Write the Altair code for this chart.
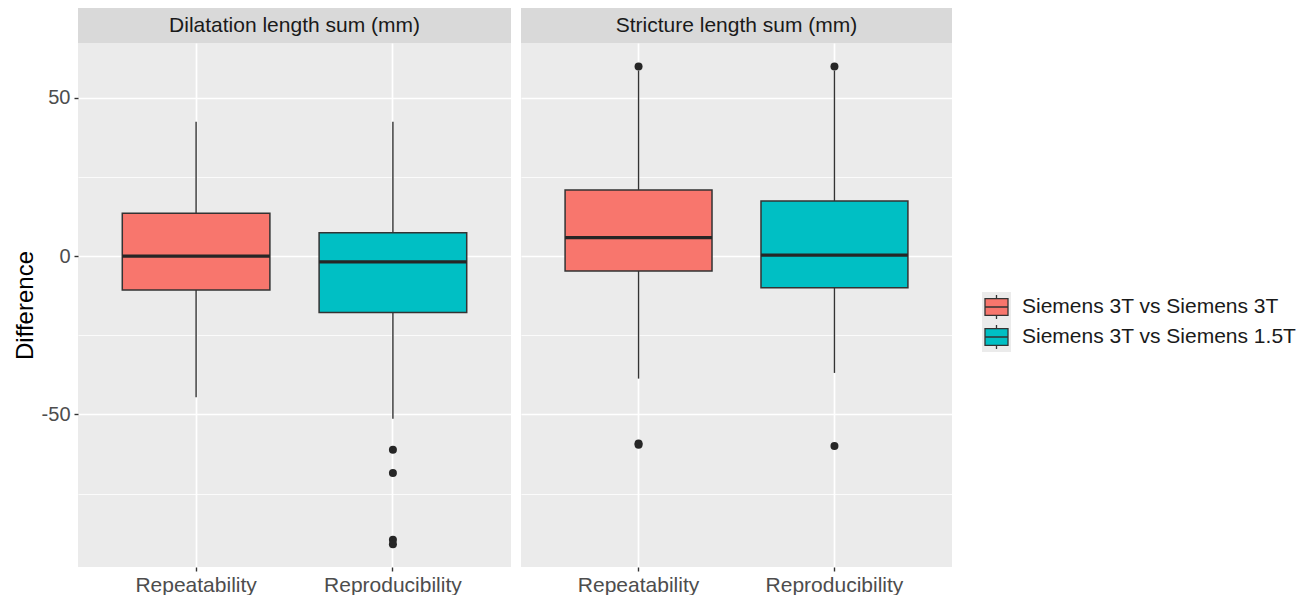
import altair as alt
import pandas as pd

panels = ["Dilatation length sum (mm)", "Stricture length sum (mm)"]
groups = ["Repeatability", "Reproducibility"]
legend_labels = ["Siemens 3T vs Siemens 3T", "Siemens 3T vs Siemens 1.5T"]
colors = ["#F8766D", "#00BFC4"]

box_panel = [panels[0], panels[0], panels[1], panels[1]]
box_group = ["Repeatability", "Reproducibility", "Repeatability", "Reproducibility"]
whisker_low = [-44.6, -51.4, -38.7, -36.9]
q1 = [-10.7, -17.8, -4.7, -10.0]
median = [0.0, -1.8, 5.8, 0.3]
q3 = [13.5, 7.4, 20.9, 17.4]
whisker_high = [42.4, 42.4, 58.6, 58.6]

out_panel = [panels[0]] * 4 + [panels[1]] * 5
out_group = ["Reproducibility"] * 4 + ["Repeatability"] * 3 + ["Reproducibility"] * 2
out_value = [-61.2, -68.5, -89.6, -91.0, 59.9, -59.2, -59.6, 59.9, -60.0]

group_to_legend = dict(zip(groups, legend_labels))

box_df = pd.DataFrame({
    "panel": box_panel, "group": box_group,
    "lo": whisker_low, "q1": q1, "median": median, "q3": q3, "hi": whisker_high,
})
box_df["legend"] = box_df["group"].map(group_to_legend)
out_df = pd.DataFrame({"panel": out_panel, "group": out_group, "value": out_value})

PLOT_H = 524
DARK = "#333333"
TXT = 21
color_scale = alt.Scale(domain=legend_labels, range=colors)
yscale = alt.Scale(domain=[-98.2, 67.3], nice=False, zero=False)
is_major = "datum.value % 50 == 0"


def y_axis(first):
    common = dict(
        values=[-75, -50, -25, 0, 25, 50],
        domain=False,
        gridColor="white",
        gridWidth={"condition": {"test": is_major, "value": 1.7}, "value": 0.8},
    )
    if first:
        return alt.Axis(
            title="Difference", titleFontSize=24, titleColor="black",
            titleFontWeight="normal", titlePadding=4,
            labelExpr=f"{is_major} ? ('' + datum.value) : ''",
            labelFontSize=20, labelColor="#4d4d4d", labelPadding=4,
            tickSize=4, tickColor=DARK, tickWidth=1.4,
            tickOpacity={"condition": {"test": is_major, "value": 1}, "value": 0},
            **common,
        )
    return alt.Axis(title=None, labels=False, ticks=False, **common)


def panel(name, width, first):
    b = box_df[box_df.panel == name]
    o = out_df[out_df.panel == name]
    s = pd.DataFrame({"panel": [name]})
    xs = alt.X(
        "group:N",
        scale=alt.Scale(domain=groups, paddingInner=0.25, paddingOuter=0.225),
        axis=alt.Axis(
            title=None, labelAngle=0, labelFontSize=TXT, labelColor="#4d4d4d",
            labelPadding=3, tickSize=4, tickColor=DARK, tickWidth=1.4,
            domain=False, grid=True, gridColor="white", gridWidth=1.7,
            bandPosition=0.5,
        ),
    )
    base = alt.Chart(b)
    whisk_lo = base.mark_rule(color=DARK, strokeWidth=1.4).encode(
        x=xs, y=alt.Y("lo:Q", scale=yscale, axis=y_axis(first)), y2="q1:Q")
    whisk_hi = base.mark_rule(color=DARK, strokeWidth=1.4).encode(
        x=xs, y="q3:Q", y2="hi:Q")
    box = base.mark_bar(stroke=DARK, strokeWidth=1.5, opacity=1).encode(
        x=xs, y="q1:Q", y2="q3:Q",
        color=alt.Color("legend:N", scale=color_scale, legend=None))
    med = base.mark_tick(color="#262626", thickness=3.2, size=0.75 * width / 2.2,
                         opacity=1).encode(x=xs, y="median:Q")
    pts = alt.Chart(o).mark_circle(size=64, color="#262626", opacity=1).encode(
        x=xs, y="value:Q")
    strip_bg = alt.Chart(s).mark_rect(color="#d9d9d9").encode(
        x=alt.value(0), x2=alt.value(width), y=alt.value(-35), y2=alt.value(0))
    strip_tx = alt.Chart(s).mark_text(fontSize=TXT, color="#1a1a1a", baseline="middle").encode(
        x=alt.value(width / 2), y=alt.value(-17), text="panel:N")
    return alt.layer(whisk_lo, whisk_hi, box, med, pts, strip_bg, strip_tx).properties(
        width=width, height=PLOT_H,
        view=alt.ViewBackground(fill="#ebebeb", stroke=None))


left = panel(panels[0], 433, True)
right = panel(panels[1], 431, False)

leg_df = pd.DataFrame({"label": legend_labels})
ly = alt.Y("label:N", scale=alt.Scale(domain=legend_labels, range=[249, 309],
                                       paddingInner=0, paddingOuter=0), axis=None)
glyph = ("M-1,-0.72L1,-0.72L1,0.72L-1,0.72Z M-1,0L1,0 "
         "M0,-0.72L0,-1.05 M0,0.72L0,1.05")
leg_base = alt.Chart(leg_df)
key_bg = leg_base.mark_rect(color="#ebebeb").encode(
    x=alt.value(20), x2=alt.value(49), y=ly)
key_glyph = leg_base.mark_point(shape=glyph, size=529, filled=True, stroke=DARK,
                                strokeWidth=1.3, opacity=1).encode(
    x=alt.value(34.5), y=ly,
    fill=alt.Fill("label:N", scale=color_scale, legend=None))
key_text = leg_base.mark_text(align="left", baseline="middle", fontSize=TXT,
                              color="#1a1a1a").encode(
    x=alt.value(60), y=ly, text="label:N")
legend = alt.layer(key_bg, key_glyph, key_text).properties(
    width=330, height=PLOT_H, view=alt.ViewBackground(fill=None, stroke=None))

chart = alt.hconcat(left, right, legend, spacing=10, bounds="flush").resolve_scale(
    color="independent", fill="independent"
).properties(
    padding={"left": 5, "top": 0, "right": 0, "bottom": 0}
).configure(font="Liberation Sans").configure_view(stroke=None)

chart.save("out.html", embed_options={"renderer": "svg", "actions": False})
